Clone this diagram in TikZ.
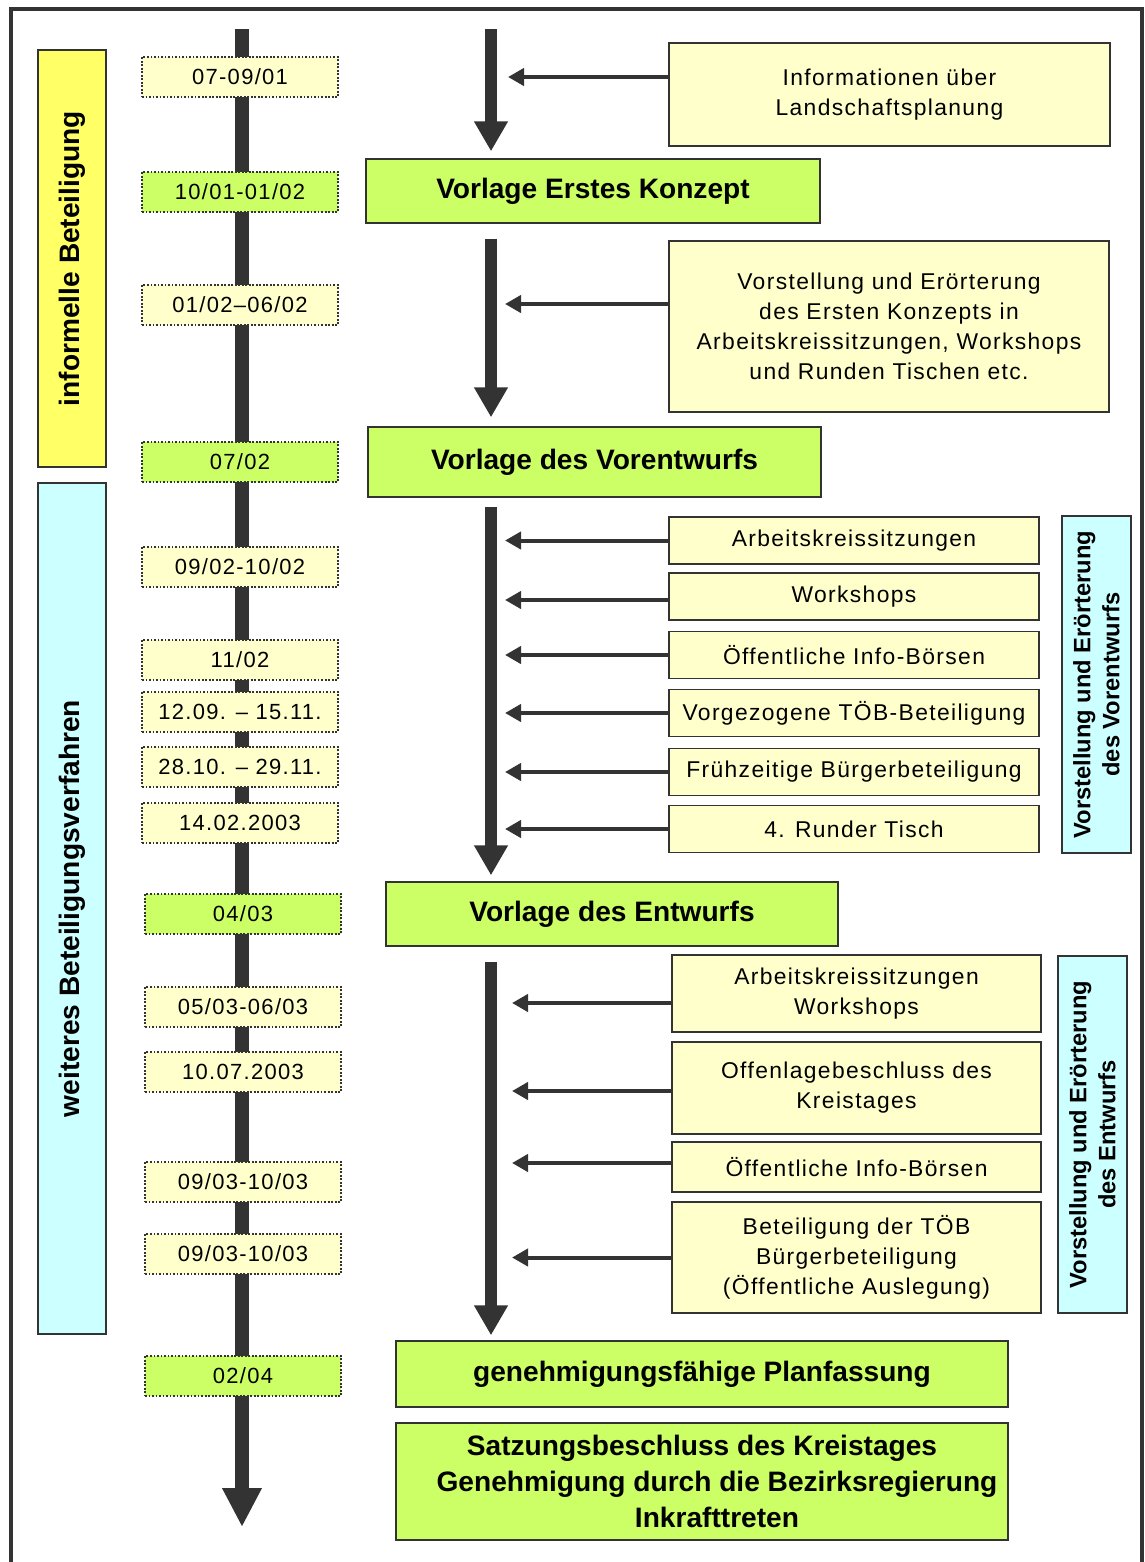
\documentclass[tikz,border=0pt]{standalone}
\usepackage{fontspec}
\setmainfont{Liberation Sans}
\newfontfamily\spaced[LetterSpace=6]{Liberation Sans}
\usetikzlibrary{arrows.meta}
\definecolor{paleyellow}{HTML}{FFFFCC}
\definecolor{limegreen}{HTML}{CCFF66}
\definecolor{signalyellow}{HTML}{FFFF66}
\definecolor{palecyan}{HTML}{CCFFFF}
\definecolor{darkline}{HTML}{333333}

\begin{document}
\begin{tikzpicture}[x=0.02cm, y=-0.02cm,
	datebox/.style={draw=darkline, densely dotted, line width=1pt, fill=paleyellow, minimum width=3.92cm, minimum height=0.8cm, inner sep=0pt, font=\spaced\fontsize{12.5}{15}\selectfont},
	mainbox/.style={draw=darkline, line width=0.8pt, fill=limegreen, align=center, inner sep=0pt, font=\bfseries\fontsize{16}{20.5}\selectfont},
	infobox/.style={draw=darkline, line width=0.8pt, fill=paleyellow, align=center, inner sep=0pt, font=\spaced\fontsize{13}{17}\selectfont},
	phasebox/.style={draw=darkline, line width=0.8pt, rotate=90, align=center, inner sep=0pt, font=\bfseries\fontsize{16}{19}\selectfont},
	flow/.style={darkline, line width=0.24cm, -{Triangle[width=0.64cm,length=0.6cm]}},
	feed/.style={darkline, line width=0.08cm, -{Triangle[width=0.34cm,length=0.32cm]}},
	timeline/.style={darkline, line width=0.28cm, -{Triangle[width=0.74cm,length=0.78cm]}}]
	\useasboundingbox (0,0) rectangle (1144,1562);
	\draw[darkline, line width=2.2pt] (11,1562) -- (11,9) -- (1142,9) -- (1142,1562);
	
	% Phasen links
	\node[phasebox, fill=signalyellow, minimum width=8.34cm, minimum height=1.36cm] (inf) at (72,258.5) {informelle Beteiligung};
	\node[phasebox, fill=palecyan, minimum width=17.02cm, minimum height=1.36cm] (wbv) at (72,908.5) {weiteres Beteiligungsverfahren};
	
	% Zeitachse
	\coordinate (tltop) at (242,29);
	\coordinate (tlend) at (242,1527);
	\draw[timeline] (tltop) -- (tlend);
	
	\node[datebox] (d1) at (240,77) {07-09/01};
	\node[datebox, fill=limegreen] (d2) at (240,192) {10/01-01/02};
	\node[datebox] (d3) at (240,305) {01/02–06/02};
	\node[datebox, fill=limegreen] (d4) at (240,462) {07/02};
	\node[datebox] (d5) at (240,567) {09/02-10/02};
	\node[datebox] (d6) at (240,660) {11/02};
	\node[datebox] (d7) at (240,712) {12.09. – 15.11.};
	\node[datebox] (d8) at (240,767) {28.10. – 29.11.};
	\node[datebox] (d9) at (240,823) {14.02.2003};
	\node[datebox, fill=limegreen] (d10) at (243,914) {04/03};
	\node[datebox] (d11) at (243,1007) {05/03-06/03};
	\node[datebox] (d12) at (243,1072) {10.07.2003};
	\node[datebox] (d13) at (243,1182) {09/03-10/03};
	\node[datebox] (d14) at (243,1254) {09/03-10/03};
	\node[datebox, fill=limegreen] (d15) at (243,1376) {02/04};
	
	% Hauptschritte
	\node[mainbox, minimum width=9.08cm, minimum height=1.28cm] (m1) at (593,191) {Vorlage Erstes Konzept};
	\node[mainbox, minimum width=9.06cm, minimum height=1.4cm] (m2) at (594.5,462) {Vorlage des Vorentwurfs};
	\node[mainbox, minimum width=9.04cm, minimum height=1.28cm] (m3) at (612,914) {Vorlage des Entwurfs};
	\node[mainbox, minimum width=12.24cm, minimum height=1.32cm] (m4) at (702,1374) {genehmigungsfähige Planfassung};
	\node[mainbox, minimum width=12.24cm, minimum height=2.34cm] (m5) at (702,1481.5) {Satzungsbeschluss des Kreistages\\\hspace*{0.6cm}Genehmigung durch die Bezirksregierung\\\hspace*{0.6cm}Inkrafttreten};
	
	\coordinate (flow) at (491,29);
	\draw[flow, shorten >=0.14cm] (flow) -- (flow |- m1.north);
	\draw[flow, shorten <=0.3cm, shorten >=0.18cm] (flow |- m1.south) -- (flow |- m2.north);
	\draw[flow, shorten <=0.18cm, shorten >=0.12cm] (flow |- m2.south) -- (flow |- m3.north);
	\draw[flow, shorten <=0.3cm, shorten >=0.1cm] (flow |- m3.south) -- (flow |- m4.north);
	
	% Beteiligungsschritte rechts
	\node[infobox, minimum width=8.82cm, minimum height=2.06cm] (i1) at (889.5,94.5) {Informationen über\\Landschaftsplanung};
	\node[infobox, minimum width=8.8cm, minimum height=3.42cm] (i2) at (889,326.5) {Vorstellung und Erörterung\\des Ersten Konzepts in\\Arbeitskreissitzungen, Workshops\\und Runden Tischen etc.};
	
	\node[infobox, minimum width=7.4cm, minimum height=0.94cm] (a1) at (854,540.5) {Arbeitskreissitzungen};
	\node[infobox, minimum width=7.4cm, minimum height=0.94cm] (a2) at (854,596.5) {Workshops};
	\node[infobox, minimum width=7.4cm, minimum height=0.94cm] (a3) at (854,655) {Öffentliche Info-Börsen};
	\node[infobox, minimum width=7.4cm, minimum height=0.94cm] (a4) at (854,713) {Vorgezogene TÖB-Beteiligung};
	\node[infobox, minimum width=7.4cm, minimum height=0.94cm] (a5) at (854,772) {Frühzeitige Bürgerbeteiligung};
	\node[infobox, minimum width=7.4cm, minimum height=0.94cm] (a6) at (854,829) {4. Runder Tisch};
	
	\node[infobox, minimum width=7.38cm, minimum height=1.54cm] (b1) at (856.5,993.5) {Arbeitskreissitzungen\\Workshops};
	\node[infobox, minimum width=7.38cm, minimum height=1.84cm] (b2) at (856.5,1088) {Offenlagebeschluss des\\Kreistages};
	\node[infobox, minimum width=7.38cm, minimum height=1.0cm] (b3) at (856.5,1167) {Öffentliche Info-Börsen};
	\node[infobox, minimum width=7.38cm, minimum height=2.22cm] (b4) at (856.5,1257.5) {Beteiligung der TÖB\\Bürgerbeteiligung\\(Öffentliche Auslegung)};
	
	\node[phasebox, fill=palecyan, minimum width=6.74cm, minimum height=1.38cm, font=\bfseries\fontsize{13.5}{16.5}\selectfont] (v1) at (1096.5,684.5) {Vorstellung und Erörterung\\des Vorentwurfs};
	\node[phasebox, fill=palecyan, minimum width=7.14cm, minimum height=1.38cm, font=\bfseries\fontsize{13.5}{16.5}\selectfont] (v2) at (1092.5,1134.5) {Vorstellung und Erörterung\\des Entwurfs};
	
	\coordinate (tipA) at (508,0);
	\coordinate (tipB) at (505,0);
	\coordinate (tipC) at (512,0);
	\draw[feed] ([yshift=0.35cm]i1.west) -- ([yshift=0.35cm]i1.west -| tipA);
	\draw[feed] ([yshift=0.45cm]i2.west) -- ([yshift=0.45cm]i2.west -| tipB);
	\draw[feed] (a1.west) -- (a1.west -| tipB);
	\draw[feed] ([yshift=-0.07cm]a2.west) -- ([yshift=-0.07cm]a2.west -| tipB);
	\draw[feed] (a3.west) -- (a3.west -| tipB);
	\draw[feed] (a4.west) -- (a4.west -| tipB);
	\draw[feed] (a5.west) -- (a5.west -| tipB);
	\draw[feed] (a6.west) -- (a6.west -| tipB);
	\draw[feed] ([yshift=-0.19cm]b1.west) -- ([yshift=-0.19cm]b1.west -| tipC);
	\draw[feed] ([yshift=-0.06cm]b2.west) -- ([yshift=-0.06cm]b2.west -| tipC);
	\draw[feed] ([yshift=0.08cm]b3.west) -- ([yshift=0.08cm]b3.west -| tipC);
	\draw[feed] (b4.west) -- (b4.west -| tipC);
\end{tikzpicture}
\end{document}
